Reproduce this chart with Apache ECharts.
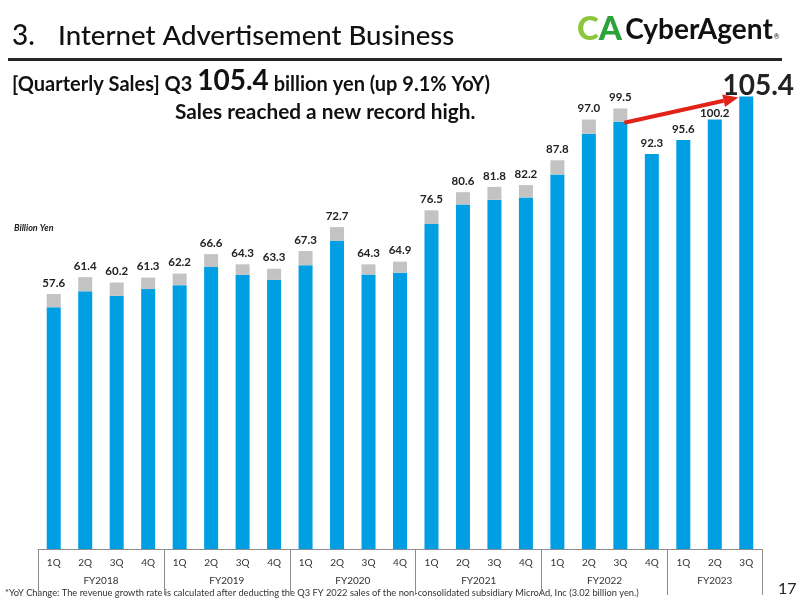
<!DOCTYPE html>
<html lang="en">
<head>
<meta charset="UTF-8">
<title>Internet Advertisement Business</title>
<script src="https://cdn.jsdelivr.net/npm/echarts@6/dist/echarts.min.js"></script>
<style>html,body{margin:0;padding:0;background:#fff;}</style>
</head>
<body>
<div id="main" style="width:800px;height:600px;"></div>
<script>
// quarters shown under each bar
var quarters = ['1Q','2Q','3Q','4Q', '1Q','2Q','3Q','4Q', '1Q','2Q','3Q','4Q',
                '1Q','2Q','3Q','4Q', '1Q','2Q','3Q','4Q', '1Q','2Q','3Q'];
var fiscalYears = ['FY2018','FY2019','FY2020','FY2021','FY2022','FY2023'];
var quartersPerYear = [4, 4, 4, 4, 4, 3];

// label above each bar (billion yen)
var totals = [57.6, 61.4, 60.2, 61.3, 62.2, 66.6, 64.3, 63.3, 67.3, 72.7, 64.3, 64.9,
              76.5, 80.6, 81.8, 82.2, 87.8, 97.0, 99.5, 92.3, 95.6, 100.2, 105.4];
// blue part of the bar
var adSales = [54.6, 58.2, 57.2, 58.7, 59.6, 63.7, 61.9, 60.8, 64.1, 69.6, 62.0, 62.4,
               73.4, 77.8, 78.9, 79.4, 84.6, 93.8, 96.5, 89.2, 92.4, 97.0, 102.2];
// grey part (MicroAd), none after deconsolidation
var microAd = [3.0, 3.2, 3.0, 2.6, 2.6, 2.9, 2.4, 2.5, 3.2, 3.1, 2.3, 2.5,
               3.1, 2.8, 2.9, 2.8, 3.2, 3.2, 3.0, 0, 0, 0, 0];

var FONT = 'Lato, "Noto Sans", sans-serif';

// fiscal year axis: one point per half quarter, so a year can be centred
var fyData = [];
var fyTick = {};
var start = 0;
for (var i = 0; i <= quarters.length * 2; i++) fyData.push('');
for (var j = 0; j < fiscalYears.length; j++) {
    fyTick[start * 2] = true;
    fyData[start * 2 + quartersPerYear[j]] = fiscalYears[j];
    start += quartersPerYear[j];
}
fyTick[quarters.length * 2] = true;

var last = totals.length - 1;

var myChart = echarts.init(document.getElementById('main'));
myChart.setOption({
    animation: false,
    grid: {left: 38, right: 38, top: 62, bottom: 51},
    xAxis: [{
        type: 'category',
        data: quarters,
        position: 'bottom',
        axisLine: {lineStyle: {color: '#8c8c8c', width: 1}},
        axisTick: {interval: 0, length: 21, lineStyle: {color: '#8c8c8c'}},
        axisLabel: {interval: 0, color: '#333', fontSize: 10, fontFamily: FONT, margin: 9}
    }, {
        type: 'category',
        data: fyData,
        position: 'bottom',
        boundaryGap: false,
        axisLine: {show: false},
        axisTick: {
            interval: function (index) { return !!fyTick[index]; },
            length: 46,
            lineStyle: {color: '#8c8c8c'}
        },
        axisLabel: {interval: 0, color: '#333', fontSize: 10, fontFamily: FONT, margin: 27}
    }],
    yAxis: {type: 'value', min: 0, max: 110, show: false},
    series: [{
        name: 'Internet Advertisement',
        type: 'bar',
        stack: 'sales',
        barWidth: 14,
        itemStyle: {color: '#009fe3'},
        data: adSales
    }, {
        name: 'MicroAd',
        type: 'bar',
        stack: 'sales',
        barWidth: 14,
        itemStyle: {color: '#c3c3c3'},
        label: {
            show: true,
            position: 'top',
            distance: 5,
            color: '#222',
            fontSize: 11.5,
            fontWeight: 'bold',
            fontFamily: FONT,
            formatter: function (p) { return totals[p.dataIndex].toFixed(1); }
        },
        data: microAd.map(function (v, k) {
            if (k === last) return {value: v, label: {fontSize: 28, offset: [12, 3], distance: 0}};
            if (k === last - 1) return {value: v, label: {distance: 0}};
            return v;
        })
    }],
    graphic: [
        {id: 'num', type: 'text', left: 12, top: 22, style: {text: '3.', font: '500 28px ' + FONT, fill: '#111'}},
        {id: 'title', type: 'text', left: 58, top: 22, style: {text: 'Internet Advertisement Business', font: '500 27.6px ' + FONT, fill: '#111'}},
        {id: 'rule', type: 'rect', shape: {x: 8, y: 58, width: 774, height: 3}, style: {fill: '#262626'}},
        {id: 'logo', type: 'text', left: 577, top: 13, style: {
            text: '{c|C}{a|A} {n|CyberAgent}{r|®}',
            rich: {
                c: {fontSize: 33, fontWeight: 900, fontFamily: FONT, fill: '#8cc63f'},
                a: {fontSize: 33, fontWeight: 900, fontFamily: FONT, fill: '#2ca33a'},
                n: {fontSize: 28, fontWeight: 'bold', fontFamily: FONT, fill: '#111'},
                r: {fontSize: 7, fontFamily: FONT, fill: '#111', padding: [14, 0, 0, 1]}
            }
        }},
        {id: 'sub', type: 'text', left: 12, top: 67, style: {
            text: '{s|[Quarterly Sales] Q3 }{b|105.4}{s| billion yen (up 9.1% YoY)}',
            rich: {
                s: {fontSize: 20, fontWeight: 'bold', fontFamily: FONT, fill: '#111', verticalAlign: 'bottom'},
                b: {fontSize: 28, fontWeight: 'bold', fontFamily: FONT, fill: '#111', verticalAlign: 'bottom'}
            }
        }},
        {id: 'sub2', type: 'text', left: 175, top: 102, style: {text: 'Sales reached a new record high.', font: 'bold 20.8px ' + FONT, fill: '#111'}},
        {id: 'unit', type: 'text', left: 14, top: 224, style: {text: 'Billion Yen', font: 'italic bold 9px ' + FONT, fill: '#222'}},
        {id: 'note', type: 'text', left: 5, top: 588, style: {
            text: '*YoY Change: The revenue growth rate is calculated after deducting the Q3 FY 2022 sales of the non-consolidated subsidiary MicroAd, Inc (3.02 billion yen.)',
            font: '9.3px ' + FONT, fill: '#333'}},
        {id: 'page', type: 'text', left: 778, top: 581, style: {text: '17', font: '16px ' + FONT, fill: '#222'}}
    ]
});

// red arrow from Q3 FY2022 (excl. MicroAd) to Q3 FY2023
var from = myChart.convertToPixel({xAxisIndex: 0, yAxisIndex: 0}, [18, adSales[18]]);
var to = myChart.convertToPixel({xAxisIndex: 0, yAxisIndex: 0}, [last, adSales[last]]);
var x1 = from[0] + 4, y1 = from[1] + 1;
var x2 = to[0] - 8, y2 = to[1] + 1;
var ang = Math.atan2(y2 - y1, x2 - x1);
var headLen = 15, headW = 6.5;
var bx = x2 - headLen * Math.cos(ang), by = y2 - headLen * Math.sin(ang);
var nx = -Math.sin(ang) * headW, ny = Math.cos(ang) * headW;
myChart.setOption({
    graphic: [
        {id: 'arrowLine', type: 'line', shape: {x1: x1, y1: y1, x2: bx, y2: by}, style: {stroke: '#e2231a', lineWidth: 4}, z: 100},
        {id: 'arrowHead', type: 'polygon', shape: {points: [[x2, y2], [bx + nx, by + ny], [bx - nx, by - ny]]}, style: {fill: '#e2231a'}, z: 100}
    ]
});
</script>
</body>
</html>
